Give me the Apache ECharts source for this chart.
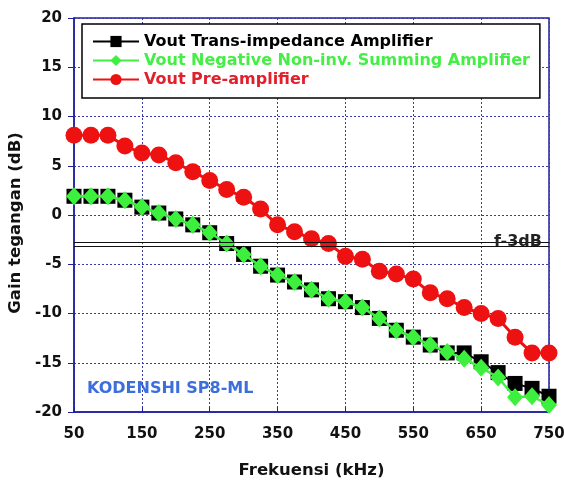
<!DOCTYPE html>
<html><head><meta charset="utf-8">
<script src="https://cdn.jsdelivr.net/npm/echarts@6/dist/echarts.min.js"></script>
<style>html,body{margin:0;padding:0;background:#fff}#c{width:564px;height:481px}</style>
</head><body><div id="c"></div>
<script>
var freq = [50,75,100,125,150,175,200,225,250,275,300,325,350,375,400,425,450,475,500,525,550,575,600,625,650,675,700,725,750];
var transImp = [1.9,1.9,1.9,1.5,0.8,0.2,-0.4,-1.0,-1.8,-2.9,-4.0,-5.2,-6.1,-6.8,-7.6,-8.5,-8.8,-9.4,-10.5,-11.7,-12.4,-13.2,-14.0,-14.0,-14.9,-16.0,-17.1,-17.6,-18.4];
var summing = [1.9,1.9,1.9,1.5,0.8,0.2,-0.4,-1.0,-1.8,-2.9,-4.0,-5.2,-6.1,-6.8,-7.6,-8.5,-8.8,-9.4,-10.5,-11.7,-12.4,-13.2,-13.9,-14.6,-15.5,-16.5,-18.5,-18.4,-19.3];
var preAmp = [8.1,8.1,8.1,7.0,6.3,6.1,5.3,4.4,3.5,2.6,1.8,0.6,-1.0,-1.7,-2.4,-2.9,-4.2,-4.5,-5.7,-6.0,-6.5,-7.9,-8.5,-9.4,-10.0,-10.5,-12.4,-14.0,-14.0];
var names = ['Vout Trans-impedance Amplifier','Vout Negative Non-inv. Summing Amplifier','Vout Pre-amplifier'];
var f3dB = -3;

function pairs(ys){ return freq.map(function(x,i){ return [x, ys[i]]; }); }
var FONT = '"DejaVu Sans", Arial, sans-serif';
var BLUE = '#2020a0';

var chart = echarts.init(document.getElementById('c'), null, {renderer:'canvas'});
chart.setOption({
  animation:false,
  backgroundColor:'#fff',
  textStyle:{fontFamily:FONT},
  grid:{left:74,right:15,top:18,bottom:69,outerBoundsMode:'none',containLabel:false,show:true,borderColor:BLUE,borderWidth:1.5,backgroundColor:'transparent'},
  legend:{
    orient:'vertical', left:82, top:24,
    padding:[8,10,9,10],
    itemWidth:46, itemHeight:14, itemGap:0,
    backgroundColor:'#fff', borderColor:'#000', borderWidth:1.5,
    textStyle:{fontFamily:FONT,fontWeight:'bold',fontSize:16,lineHeight:19},
    data:[
      {name:names[0], textStyle:{color:'#000'}},
      {name:names[1], textStyle:{color:'#44ee44'}},
      {name:names[2], textStyle:{color:'#e0202c'}}
    ]
  },
  xAxis:{
    type:'value', min:50, max:750, interval:100,
    name:'Frekuensi (kHz)', nameLocation:'middle', nameGap:50,
    nameTextStyle:{fontFamily:FONT,fontWeight:'bold',fontSize:16.5,color:'#111'},
    axisLine:{show:true,onZero:false,lineStyle:{color:BLUE,width:1.5}},
    axisTick:{show:true,inside:true,length:5,lineStyle:{color:BLUE}},
    axisLabel:{fontFamily:FONT,fontWeight:'bold',fontSize:15,color:'#111',margin:15},
    splitLine:{show:true,lineStyle:{color:'#3a3aa8',type:[2,2],width:1}}
  },
  yAxis:{
    type:'value', min:-20, max:20, interval:5,
    name:'Gain tegangan (dB)', nameLocation:'middle', nameGap:45, nameRotate:90,
    nameTextStyle:{fontFamily:FONT,fontWeight:'bold',fontSize:16.5,color:'#111',padding:[0,0,0,-16]},
    axisLine:{show:true,lineStyle:{color:BLUE,width:1.5}},
    axisTick:{show:true,length:6,lineStyle:{color:BLUE}},
    axisLabel:{fontFamily:FONT,fontWeight:'bold',fontSize:15,color:'#111',margin:12},
    splitLine:{show:true,lineStyle:{color:'#3a3aa8',type:[2,2],width:1}}
  },
  graphic:[{
    type:'text', left:87, top:381,
    style:{text:'KODENSHI SP8-ML', fill:'#3d6fdc', font:'bold 16px '+FONT}
  }],
  series:[
    {
      name:names[0], type:'line', data:pairs(transImp),
      symbol:'rect', symbolSize:15, showAllSymbol:true,
      lineStyle:{color:'#000',width:2}, itemStyle:{color:'#000'},
      markLine:{
        silent:true, symbol:'none', animation:false,
        lineStyle:{color:'#111',width:1,type:'solid'},
        label:{show:false},
        data:[
          {yAxis:f3dB+0.2},
          {yAxis:f3dB-0.2, label:{show:true,position:'insideEndTop',formatter:'f-3dB',color:'#222',fontFamily:FONT,fontWeight:'bold',fontSize:16,distance:[7,-3]}}
        ]
      },
      z:2
    },
    {
      name:names[1], type:'line', data:pairs(summing),
      symbol:'diamond', symbolSize:[16,18], showAllSymbol:true,
      lineStyle:{color:'#44ee44',width:2.5}, itemStyle:{color:'#3ef03e'},
      z:3
    },
    {
      name:names[2], type:'line', data:pairs(preAmp),
      symbol:'circle', symbolSize:17, showAllSymbol:true,
      lineStyle:{color:'#ee1111',width:3}, itemStyle:{color:'#ee1111'},
      z:4
    }
  ]
});
</script></body></html>
